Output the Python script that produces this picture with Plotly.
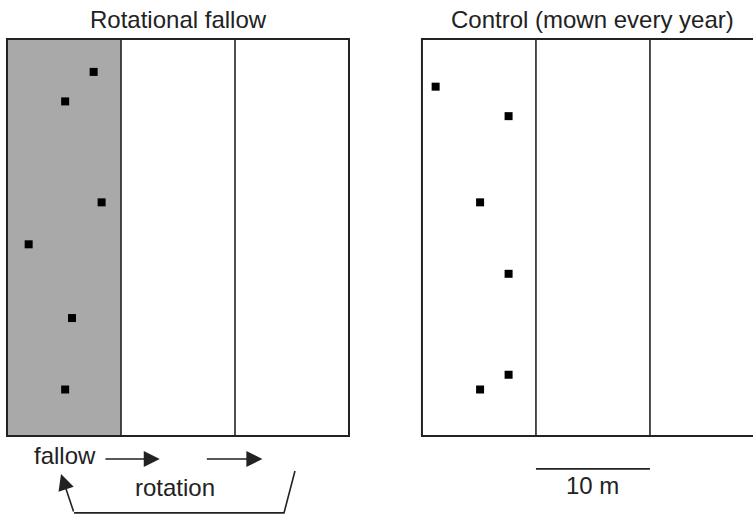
import plotly.graph_objects as go

# ---- field geometry (metres) ----
STRIP_W = 10.0          # width of one mowing strip
N_STRIPS = 3
FIELD_H = 35.0          # field length
PANEL_X0 = [0.0, 36.4]  # left edge of each field
panel_titles = ["Rotational fallow", "Control (mown every year)"]
fallow_strip = [0, None]  # index of shaded (fallow) strip per panel

# ---- sampling plots (metres, relative to each field's lower-left corner) ----
fallow_x = [7.6, 5.1, 8.3, 1.9, 5.7, 5.1]
fallow_y = [32.1, 29.5, 20.6, 16.9, 10.4, 4.1]
control_x = [1.2, 7.6, 5.1, 7.6, 7.6, 5.1]
control_y = [30.8, 28.2, 20.6, 14.3, 5.4, 4.1]

SCALE_LEN = 10.0
scale_label = "10 m"

INK = "#222222"
GREY = "#a9a9a9"
FONT = "Liberation Sans, Arial, sans-serif"
FS = 24

fig = go.Figure()

shapes = []
for p, x0 in enumerate(PANEL_X0):
    if fallow_strip[p] is not None:
        s = fallow_strip[p]
        shapes.append(dict(type="rect", xref="x", yref="y",
                           x0=x0 + s * STRIP_W, x1=x0 + (s + 1) * STRIP_W,
                           y0=0, y1=FIELD_H, fillcolor=GREY,
                           line=dict(width=0), layer="below"))
    for k in range(1, N_STRIPS):
        shapes.append(dict(type="line", xref="x", yref="y",
                           x0=x0 + k * STRIP_W, x1=x0 + k * STRIP_W,
                           y0=0, y1=FIELD_H, line=dict(color=INK, width=1.6)))
    shapes.append(dict(type="rect", xref="x", yref="y",
                       x0=x0, x1=x0 + N_STRIPS * STRIP_W, y0=0, y1=FIELD_H,
                       line=dict(color=INK, width=2)))

# scale bar under control field
sb_x0 = PANEL_X0[1] + STRIP_W
shapes.append(dict(type="line", xref="x", yref="y", x0=sb_x0, x1=sb_x0 + SCALE_LEN,
                   y0=-2.9, y1=-2.9, line=dict(color=INK, width=1.6)))

# sampling plots
fig.add_trace(go.Scatter(
    x=[PANEL_X0[0] + v for v in fallow_x], y=fallow_y, mode="markers",
    marker=dict(symbol="square", size=8, color="black", line=dict(width=0)),
    hoverinfo="skip", showlegend=False))
fig.add_trace(go.Scatter(
    x=[PANEL_X0[1] + v for v in control_x], y=control_y, mode="markers",
    marker=dict(symbol="square", size=8, color="black", line=dict(width=0)),
    hoverinfo="skip", showlegend=False))

# rotation return bracket
fig.add_trace(go.Scatter(
    x=[25.26, 24.30, 5.88], y=[-3.09, -6.78, -6.78], mode="lines",
    line=dict(color=INK, width=1.6), hoverinfo="skip", showlegend=False))

annotations = []
for p, x0 in enumerate(PANEL_X0):
    annotations.append(dict(text=panel_titles[p], x=x0 + N_STRIPS * STRIP_W / 2,
                            y=36.75, xref="x", yref="y", showarrow=False,
                            font=dict(family=FONT, size=FS, color=INK)))

def arrow(x_tail, y_tail, x_head, y_head):
    return dict(x=x_head, y=y_head, ax=x_tail, ay=y_tail, xref="x", yref="y",
                axref="x", ayref="y", text="", showarrow=True, arrowhead=2,
                arrowsize=2.0, arrowwidth=1.6, arrowcolor=INK, standoff=0)

annotations += [
    arrow(8.5, -2.03, 13.4, -2.03),
    arrow(17.4, -2.03, 22.4, -2.03),
    arrow(5.88, -6.78, 4.74, -3.35),
    dict(text="fallow", x=5.1, y=-1.76, xref="x", yref="y", showarrow=False,
         font=dict(family=FONT, size=FS, color=INK)),
    dict(text="rotation", x=14.74, y=-4.58, xref="x", yref="y", showarrow=False,
         font=dict(family=FONT, size=FS, color=INK)),
    dict(text=scale_label, x=sb_x0 + SCALE_LEN / 2, y=-4.32, xref="x", yref="y",
         showarrow=False, font=dict(family=FONT, size=FS, color=INK)),
]

fig.update_layout(
    width=753, height=514, margin=dict(l=0, r=0, t=0, b=0),
    paper_bgcolor="white", plot_bgcolor="white",
    shapes=shapes, annotations=annotations,
    xaxis=dict(range=[-0.614, 65.44], visible=False, fixedrange=True),
    yaxis=dict(range=[-6.877, 38.44], visible=False, fixedrange=True),
)

fig.write_html(
    "out.html",
    config={"displayModeBar": False},
    post_script="document.body.style.margin='0';document.body.style.overflow='hidden';",
)
